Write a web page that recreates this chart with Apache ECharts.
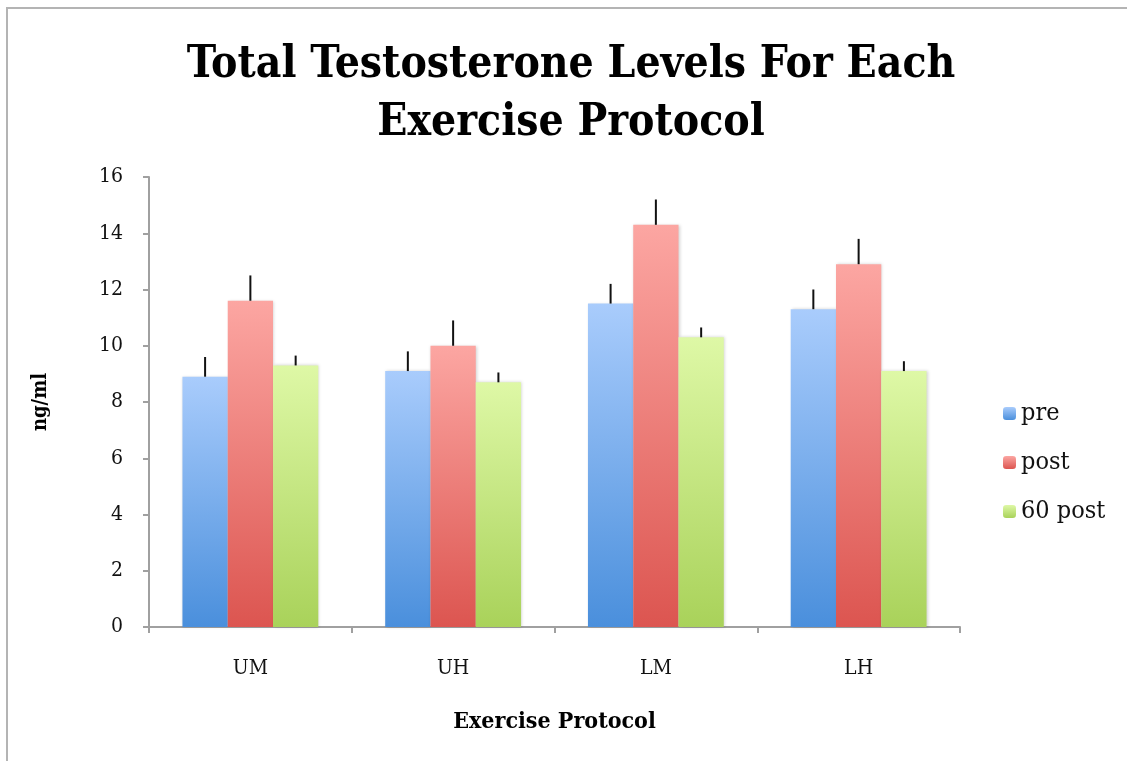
<!DOCTYPE html>
<html>
<head>
<meta charset="utf-8">
<script src="https://cdn.jsdelivr.net/npm/echarts@6/dist/echarts.min.js"></script>
<style>
html,body{margin:0;padding:0;background:#fff;}
#chart{width:1127px;height:761px;}
</style>
</head>
<body>
<div id="chart"></div>
<script>
var categories = ['UM', 'UH', 'LM', 'LH'];
var seriesNames = ['pre', 'post', '60 post'];
var preValues = [8.9, 9.1, 11.5, 11.3];
var postValues = [11.6, 10.0, 14.3, 12.9];
var post60Values = [9.3, 8.7, 10.3, 9.1];
var preErr = [0.7, 0.7, 0.7, 0.7];
var postErr = [0.9, 0.9, 0.9, 0.9];
var post60Err = [0.35, 0.35, 0.35, 0.35];
var yTicks = [0, 2, 4, 6, 8, 10, 12, 14, 16];

var FONT = '"DejaVu Serif Condensed", "Liberation Serif", serif';
var gradients = [
  ['#a9ccfc', '#4a8fdc'],
  ['#fca6a2', '#dc5550'],
  ['#def8a6', '#a9d25a']
];
var values = [preValues, postValues, post60Values];
var errs = [preErr, postErr, post60Err];
var catGapPct = 33;

function grad(c) {
  return new echarts.graphic.LinearGradient(0, 0, 0, 1, [
    {offset: 0, color: c[0]}, {offset: 1, color: c[1]}
  ]);
}

var series = [];
seriesNames.forEach(function (name, i) {
  series.push({
    name: name,
    type: 'bar',
    data: values[i],
    barGap: '0%',
    barCategoryGap: catGapPct + '%',
    itemStyle: {
      color: grad(gradients[i]),
      shadowColor: 'rgba(0,0,0,0.18)',
      shadowBlur: 3,
      shadowOffsetX: 1
    },
    z: 2
  });
});

var errData = [];
for (var s = 0; s < 3; s++) {
  for (var c = 0; c < categories.length; c++) {
    errData.push([c, values[s][c], values[s][c] + errs[s][c], s]);
  }
}
series.push({
  type: 'custom',
  name: 'err',
  data: errData,
  z: 3,
  renderItem: function (params, api) {
    var ci = api.value(0);
    var lo = api.coord([ci, api.value(1)]);
    var hi = api.coord([ci, api.value(2)]);
    var sIdx = api.value(3);
    var catW = api.size([1, 0])[0];
    var bw = catW * (1 - catGapPct / 100) / 3;
    var x = lo[0] + (sIdx - 1) * bw;
    return {
      type: 'line',
      shape: {x1: x, y1: lo[1], x2: x, y2: hi[1]},
      style: {stroke: '#111', lineWidth: 2}
    };
  },
  tooltip: {show: false}
});

var chart = echarts.init(document.getElementById('chart'));
chart.setOption({
  animation: false,
  backgroundColor: '#fff',
  title: {
    text: 'Total Testosterone Levels For Each\nExercise Protocol',
    left: 566,
    textAlign: 'center',
    top: 32,
    textStyle: {
      fontFamily: FONT,
      fontWeight: 'bold',
      fontSize: 44,
      lineHeight: 58,
      color: '#000'
    }
  },
  graphic: [{
    type: 'rect',
    shape: {x: 7, y: 8, width: 1300, height: 900},
    style: {fill: 'none', stroke: '#b4b4b4', lineWidth: 2},
    silent: true
  }],
  legend: {
    orient: 'vertical',
    left: 998,
    top: 396,
    itemWidth: 13,
    itemHeight: 13,
    itemGap: 24,
    data: seriesNames,
    textStyle: {fontFamily: FONT, fontSize: 25, color: '#111'}
  },
  grid: {left: 149, right: 167, top: 177, bottom: 134},
  xAxis: {
    type: 'category',
    data: categories,
    name: 'Exercise Protocol',
    nameLocation: 'middle',
    nameGap: 84,
    nameTextStyle: {fontFamily: FONT, fontWeight: 'bold', fontSize: 23, color: '#000'},
    axisLine: {lineStyle: {color: '#a0a0a0', width: 2}},
    axisTick: {show: true, length: 6, lineStyle: {color: '#a0a0a0', width: 2}},
    axisLabel: {fontFamily: FONT, fontSize: 21, color: '#111', margin: 31}
  },
  yAxis: {
    type: 'value',
    min: 0,
    max: 16,
    interval: 2,
    name: 'ng/ml',
    nameLocation: 'middle',
    nameGap: 98,
    nameTextStyle: {fontFamily: FONT, fontWeight: 'bold', fontSize: 20, color: '#000'},
    axisLine: {show: true, lineStyle: {color: '#a0a0a0', width: 2}},
    axisTick: {show: true, length: 6, lineStyle: {color: '#a0a0a0', width: 2}},
    splitLine: {show: false},
    axisLabel: {
      fontFamily: FONT, fontSize: 21, color: '#111', margin: 26,
      formatter: function (v) { return yTicks.indexOf(v) >= 0 ? String(v) : ''; }
    }
  },
  series: series
});
</script>
</body>
</html>
